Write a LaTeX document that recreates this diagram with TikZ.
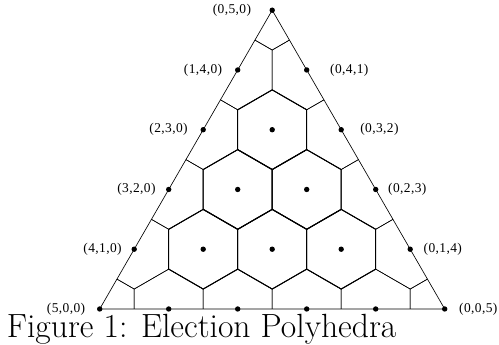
\documentclass[tikz,border=0pt]{standalone}
\usepackage{fontspec}
\newfontfamily\coordfont[LetterSpace=3]{Liberation Serif}
\usetikzlibrary{positioning}

\begin{document}
\begin{tikzpicture}[
    x=69bp, y=69bp,
    dot/.style={circle, fill=black, inner sep=0pt, minimum size=5.4bp},
    coord/.style={inner sep=0pt, font=\coordfont\fontsize{13.5}{15}\selectfont},
    cell/.style={line width=0.55pt},
    hexcell/.style={line width=1.05pt},
    side/.style={line width=0.65pt},
    caption/.style={inner sep=0pt, anchor=base west, font=\fontsize{33.7}{40}\selectfont}
  ]
  \useasboundingbox (-1.445,-0.522) rectangle (5.787,4.478);

  % lattice points (a,b,c) with a+b+c=5
  \foreach \b in {0,...,5} {
    \pgfmathtruncatemacro{\cmax}{5-\b}
    \foreach \c in {0,...,\cmax} {
      \pgfmathtruncatemacro{\a}{5-\b-\c}
      \coordinate (q\a\b\c) at ({\c+\b/2},{\b*sqrt(3)/2});
    }
  }

  % cells of the boundary points, cut by the triangle
  \begin{scope}
    \clip (q500) -- (q050) -- (q005) -- cycle;
    \foreach \b in {0,...,5} {
      \pgfmathtruncatemacro{\cmax}{5-\b}
      \foreach \c in {0,...,\cmax} {
        \pgfmathtruncatemacro{\a}{5-\b-\c}
        \draw[cell, shift={(q\a\b\c)}] (30:0.57735) -- (90:0.57735) -- (150:0.57735)
          -- (210:0.57735) -- (270:0.57735) -- (330:0.57735) -- cycle;
      }
    }
  \end{scope}

  % hexagons of the inner points
  \foreach \p in {113,122,131,212,221,311}
    \draw[hexcell, shift={(q\p)}] (30:0.57735) -- (90:0.57735) -- (150:0.57735)
      -- (210:0.57735) -- (270:0.57735) -- (330:0.57735) -- cycle;

  \draw[side] (q500) -- (q050) -- (q005) -- cycle;

  % dots
  \foreach \b in {0,...,5} {
    \pgfmathtruncatemacro{\cmax}{5-\b}
    \foreach \c in {0,...,\cmax} {
      \pgfmathtruncatemacro{\a}{5-\b-\c}
      \node[dot] (d\a\b\c) at (q\a\b\c) {};
    }
  }

  % labels
  \foreach \a/\b/\d in {5/0/11.4, 4/1/9.4, 3/2/10, 2/3/12.4, 1/4/12.4, 0/5/18}
    \node[coord, left=\d bp of d\a\b0] (l\a\b0) {(\a,\b,0)};
  \foreach \b/\c/\d in {4/1/20.4, 3/2/16, 2/3/9.4, 1/4/10.4, 0/5/11.4}
    \node[coord, right=\d bp of d0\b\c] (l0\b\c) {(0,\b,\c)};

  \node[caption] (cap) at (-1.348,-0.42) {Figure 1: Election Polyhedra};
\end{tikzpicture}
\end{document}
